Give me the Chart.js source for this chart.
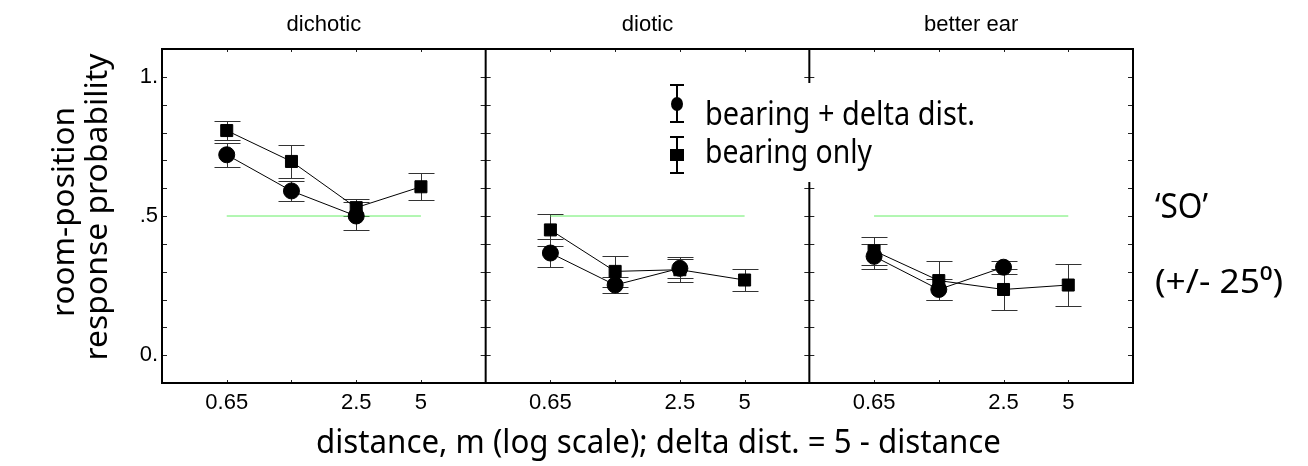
<!DOCTYPE html>
<html>
<head>
<meta charset="utf-8">
<script src="https://cdn.jsdelivr.net/npm/chart.js@4.4.0/dist/chart.umd.min.js"></script>
<style>
  html, body { margin: 0; padding: 0; background: #fff; }
  #wrap { width: 1308px; height: 466px; }
</style>
</head>
<body>
<div id="wrap"><canvas id="chart" width="1308" height="466"></canvas></div>
<script>
// panel names and distance categories (m)
const panels = ['dichotic', 'diotic', 'better ear'];
const distLabels = ['0.65', '', '2.5', '5'];
const chance = 0.5;

// bearing + delta dist. (circles)
const circDichotic = [0.72, 0.59, 0.50, null];
const circDichoticErr = [0.043, 0.037, 0.05, null];
const circDiotic = [0.367, 0.252, 0.312, null];
const circDioticErr = [0.049, 0.03, 0.033, null];
const circBetter = [0.355, 0.236, 0.316, null];
const circBetterErr = [0.046, 0.038, 0.024, null];

// bearing only (squares)
const sqDichotic = [0.807, 0.696, 0.53, 0.605];
const sqDichoticErr = [0.034, 0.06, 0.03, 0.048];
const sqDiotic = [0.45, 0.301, 0.307, 0.27];
const sqDioticErr = [0.056, 0.056, 0.045, 0.04];
const sqBetter = [0.375, 0.268, 0.236, 0.252];
const sqBetterErr = [0.05, 0.07, 0.073, 0.076];

const circAll = [circDichotic, circDiotic, circBetter];
const circErrAll = [circDichoticErr, circDioticErr, circBetterErr];
const sqAll = [sqDichotic, sqDiotic, sqBetter];
const sqErrAll = [sqDichoticErr, sqDioticErr, sqBetterErr];

const HUMAN = '"Noto Sans", sans-serif';
const ARIAL = '"Liberation Sans", Arial, sans-serif';

function toPoints(p, vals, errs) {
    let out = [];
    for (let i = 0; i < vals.length; i++) {
        if (vals[i] === null) continue;
        out.push({x: p * 5 + i + 1, y: vals[i], e: errs[i]});
    }
    return out;
}

let datasets = [];
for (let p = 0; p < panels.length; p++) {
    datasets.push({
        data: [{x: p * 5 + 1, y: chance}, {x: p * 5 + 4, y: chance}],
        borderColor: '#66ee66',
        borderWidth: 1,
        pointRadius: 0,
        order: 3
    });
    datasets.push({
        label: 'bearing only',
        data: toPoints(p, sqAll[p], sqErrAll[p]),
        borderColor: '#000',
        borderWidth: 1,
        pointStyle: 'rect',
        pointRadius: 8.5,
        pointBackgroundColor: '#000',
        pointBorderColor: '#000',
        order: 2
    });
    datasets.push({
        label: 'bearing + delta dist.',
        data: toPoints(p, circAll[p], circErrAll[p]),
        borderColor: '#000',
        borderWidth: 1,
        pointStyle: 'circle',
        pointRadius: 8,
        pointBackgroundColor: '#000',
        pointBorderColor: '#000',
        order: 1
    });
}

// text squeezed horizontally to a target width
function fitText(ctx, text, x, y, width, size, rotate) {
    ctx.save();
    ctx.font = size + 'px ' + HUMAN;
    let w0 = ctx.measureText(text).width;
    ctx.translate(x, y);
    if (rotate) ctx.rotate(-Math.PI / 2);
    ctx.scale(width / w0, 1);
    ctx.textAlign = rotate ? 'center' : 'left';
    ctx.textBaseline = 'alphabetic';
    ctx.fillStyle = '#000';
    ctx.fillText(text, 0, 0);
    ctx.restore();
}

function seg(ctx, x1, y1, x2, y2) {
    ctx.beginPath();
    ctx.moveTo(x1, y1);
    ctx.lineTo(x2, y2);
    ctx.stroke();
}

const errorBars = {
    id: 'errorBars',
    beforeDatasetsDraw(chart) {
        const {ctx, scales: {x, y}} = chart;
        ctx.save();
        ctx.strokeStyle = '#333';
        ctx.lineWidth = 1;
        chart.data.datasets.forEach(ds => {
            ds.data.forEach(pt => {
                if (pt.e === undefined) return;
                let px = Math.round(x.getPixelForValue(pt.x)) + 0.5;
                let top = Math.round(y.getPixelForValue(pt.y + pt.e)) + 0.5;
                let bot = Math.round(y.getPixelForValue(pt.y - pt.e)) + 0.5;
                seg(ctx, px, top, px, bot);
                seg(ctx, px - 13, top, px + 13, top);
                seg(ctx, px - 13, bot, px + 13, bot);
            });
        });
        ctx.restore();
    }
};

const frames = {
    id: 'frames',
    afterDatasetsDraw(chart) {
        const {ctx, chartArea: a, scales: {x, y}} = chart;
        ctx.save();
        ctx.strokeStyle = '#222';
        ctx.lineWidth = 1;
        for (let p = 0; p < panels.length; p++) {
            let l = x.getPixelForValue(p * 5), r = x.getPixelForValue(p * 5 + 5);
            for (let v = 0; v <= 10; v++) {
                let py = Math.round(y.getPixelForValue(v / 10)) + 0.5;
                seg(ctx, l, py, l + 5, py);
                seg(ctx, r - 5, py, r, py);
            }
            for (let i = 0; i < 4; i++) {
                let px = Math.round(x.getPixelForValue(p * 5 + i + 1)) + 0.5;
                seg(ctx, px, a.top, px, a.top + 3);
                seg(ctx, px, a.bottom - 3, px, a.bottom);
            }
        }
        ctx.strokeStyle = '#000';
        ctx.lineWidth = 2;
        ctx.strokeRect(a.left, a.top, a.right - a.left, a.bottom - a.top);
        for (let p = 1; p < panels.length; p++) {
            let px = x.getPixelForValue(p * 5);
            seg(ctx, px, a.top, px, a.bottom);
        }
        ctx.restore();
    }
};

const texts = {
    id: 'texts',
    afterDraw(chart) {
        const {ctx, chartArea: a, scales: {x}} = chart;
        ctx.save();
        // panel titles
        ctx.font = '22px ' + ARIAL;
        ctx.fillStyle = '#000';
        ctx.textAlign = 'center';
        ctx.textBaseline = 'alphabetic';
        panels.forEach((name, p) => {
            ctx.fillText(name, x.getPixelForValue(p * 5 + 2.5), 31);
        });
        ctx.restore();

        // axis titles
        fitText(ctx, 'room-position', 74, 212, 210, 30, true);
        fitText(ctx, 'response probability', 107, 207, 307, 30, true);
        fitText(ctx, 'distance, m (log scale); delta dist. = 5 - distance', 316, 453, 685, 33, false);

        // condition note
        fitText(ctx, '\u2018SO\u2019', 1155, 218, 53, 34, false);
        fitText(ctx, '(+/- 25\u2070)', 1155, 293, 128, 32, false);

        // legend
        ctx.save();
        ctx.fillStyle = '#fff';
        ctx.fillRect(663, 83, 325, 99);
        ctx.strokeStyle = '#000';
        ctx.fillStyle = '#000';
        ctx.lineWidth = 2;
        seg(ctx, 677, 85, 677, 122);
        seg(ctx, 670, 85, 684, 85);
        seg(ctx, 670, 122, 684, 122);
        ctx.beginPath();
        ctx.ellipse(677, 104, 6, 7, 0, 0, Math.PI * 2);
        ctx.fill();
        seg(ctx, 677, 137, 677, 173);
        seg(ctx, 670, 137, 684, 137);
        seg(ctx, 670, 173, 684, 173);
        ctx.fillRect(670, 149, 14, 12);
        ctx.restore();
        fitText(ctx, 'bearing + delta dist.', 705, 125, 270, 33, false);
        fitText(ctx, 'bearing only', 705, 163, 167, 33, false);
    }
};

new Chart(document.getElementById('chart'), {
    type: 'line',
    data: { datasets: datasets },
    options: {
        responsive: false,
        animation: false,
        layout: { padding: { left: 0, right: 175, top: 49, bottom: 0 } },
        plugins: { legend: { display: false }, tooltip: { enabled: false } },
        scales: {
            x: {
                type: 'linear',
                min: 0,
                max: 15,
                afterFit: s => { s.height = 83; },
                grid: { display: false, drawTicks: false },
                border: { display: false },
                ticks: {
                    stepSize: 1,
                    autoSkip: false,
                    maxRotation: 0,
                    padding: 7,
                    color: '#000',
                    font: { family: ARIAL, size: 22 },
                    callback: v => {
                        let k = Math.round(v) % 5 - 1;
                        return (k >= 0 && k < 4) ? distLabels[k] : '';
                    }
                }
            },
            y: {
                min: -0.1,
                max: 1.1,
                afterFit: s => { s.width = 162; },
                grid: { display: false, drawTicks: false },
                border: { display: false },
                ticks: {
                    stepSize: 0.1,
                    autoSkip: false,
                    padding: 4,
                    color: '#000',
                    font: { family: ARIAL, size: 22 },
                    callback: v => {
                        let r = Math.round(v * 10);
                        if (r === 0) return '0.';
                        if (r === 5) return '.5';
                        if (r === 10) return '1.';
                        return '';
                    }
                }
            }
        }
    },
    plugins: [errorBars, frames, texts]
});
</script>
</body>
</html>
